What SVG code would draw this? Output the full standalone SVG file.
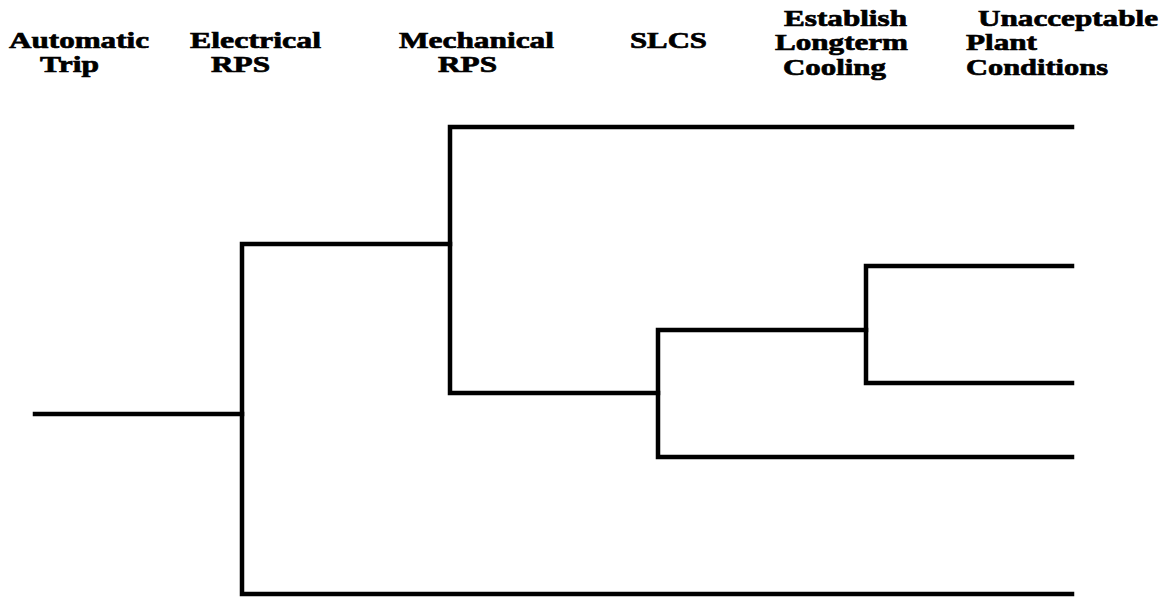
<svg xmlns="http://www.w3.org/2000/svg" width="1170" height="598" viewBox="0 0 1170 598">
<style>
.h{font-family:"Liberation Serif","Times New Roman",serif;font-weight:bold;font-size:24px;fill:#000;stroke:#000;stroke-width:0.7}
.ln{fill:none;stroke:#000;stroke-width:4.5;stroke-linejoin:miter;stroke-linecap:square}
</style>
<rect width="1170" height="598" fill="#fff"/>
<g id="h-automatic-trip">
<text class="h" x="9" y="48" textLength="140" lengthAdjust="spacingAndGlyphs">Automatic</text>
<text class="h" x="40" y="72" textLength="59" lengthAdjust="spacingAndGlyphs">Trip</text>
</g>
<g id="h-electrical-rps">
<text class="h" x="190" y="48" textLength="131" lengthAdjust="spacingAndGlyphs">Electrical</text>
<text class="h" x="211" y="72" textLength="59" lengthAdjust="spacingAndGlyphs">RPS</text>
</g>
<g id="h-mechanical-rps">
<text class="h" x="399" y="48" textLength="155" lengthAdjust="spacingAndGlyphs">Mechanical</text>
<text class="h" x="438" y="72" textLength="59" lengthAdjust="spacingAndGlyphs">RPS</text>
</g>
<g id="h-slcs">
<text class="h" x="630" y="48" textLength="77" lengthAdjust="spacingAndGlyphs">SLCS</text>
</g>
<g id="h-longterm-cooling">
<text class="h" x="784" y="26" textLength="123" lengthAdjust="spacingAndGlyphs">Establish</text>
<text class="h" x="775" y="50" textLength="133" lengthAdjust="spacingAndGlyphs">Longterm</text>
<text class="h" x="783" y="75" textLength="103" lengthAdjust="spacingAndGlyphs">Cooling</text>
</g>
<g id="h-unacceptable">
<text class="h" x="978" y="26" textLength="180" lengthAdjust="spacingAndGlyphs">Unacceptable</text>
<text class="h" x="966" y="50" textLength="71" lengthAdjust="spacingAndGlyphs">Plant</text>
<text class="h" x="966" y="75" textLength="142" lengthAdjust="spacingAndGlyphs">Conditions</text>
</g>
<g id="connectors">
<path class="ln" d="M35 414 H242"/>
<path class="ln" d="M450 244 H242 V594 H1072"/>
<path class="ln" d="M1072 127 H450 V393 H658"/>
<path class="ln" d="M866 330 H658 V457 H1072"/>
<path class="ln" d="M1072 266 H866 V383 H1072"/>
</g>
</svg>
